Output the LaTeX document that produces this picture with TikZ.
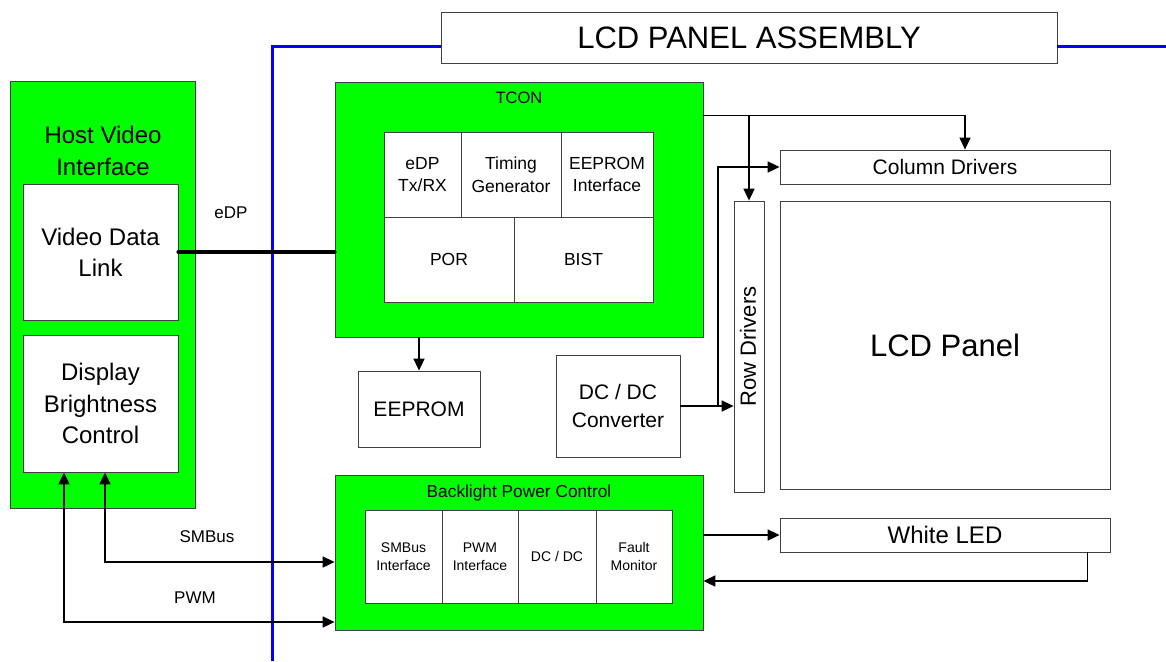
\documentclass[tikz,border=0pt]{standalone}
\usepackage{fontspec}
\setmainfont{Liberation Sans}
\usetikzlibrary{arrows.meta}
\begin{document}
\begin{tikzpicture}[x=1pt,y=-1pt,
  box/.style={draw=black!75,line width=0.8pt,fill=white,inner sep=0pt,align=center},
  gbox/.style={draw=black!75,line width=0.8pt,fill=green,inner sep=0pt},
  arr/.style={line width=1.7pt,-{Triangle[length=12pt,width=11pt]}},
  darr/.style={line width=1.7pt,{Triangle[length=12pt,width=11pt]}-{Triangle[length=12pt,width=11pt]}},
  bline/.style={blue,line width=3pt},
  fs/.style={font=\fontsize{#1}{\fpeval{#1*1.3}}\selectfont}
]
\useasboundingbox (0,0) rectangle (1166,661);
% title
\node[box,minimum width=616,minimum height=51,fs=31] (title) at (749,37.5) {LCD PANEL ASSEMBLY};
\coordinate (bl1) at (272,661);
\coordinate (bl2) at (1166,47);
\draw[bline] (bl1) |- ([yshift=-9.5]title.west);
\draw[bline] ([yshift=-9.5]title.east) -- (bl2);
% host
\node[gbox,minimum width=185,minimum height=427] (host) at (102.5,294.5) {};
\node[align=center,fs=24,inner sep=0pt] (hosttitle) at (103,151) {Host Video\\Interface};
\node[box,minimum width=155,minimum height=136,fs=24] (vdl) at (100.5,252) {Video Data\\Link};
\node[box,minimum width=155,minimum height=137,fs=24] (dbc) at (100.5,403.5) {Display\\Brightness\\Control};
% TCON
\node[gbox,minimum width=368,minimum height=255] (tcon) at (519,209.5) {};
\node[fs=16.5] (tcontitle) at (519,98) {TCON};
\node[box,minimum width=77,minimum height=85,fs=17.5] (edp) at (422.5,174.5) {eDP\\Tx/RX};
\node[box,minimum width=100,minimum height=85,fs=17.5] (tg) at (511,174.5) {Timing\\Generator};
\node[box,minimum width=92,minimum height=85,fs=17.5] (eei) at (607,174.5) {EEPROM\\Interface};
\node[box,minimum width=130,minimum height=85,fs=17.5] (por) at (449,259.5) {POR};
\node[box,minimum width=139,minimum height=85,fs=17.5] (bist) at (583.5,259.5) {BIST};
% EEPROM, DCDC
\node[box,minimum width=122,minimum height=76,fs=21] (eeprom) at (419,409) {EEPROM};
\node[box,minimum width=124,minimum height=102,fs=21] (dcdc) at (618,406) {DC / DC\\Converter};
% panel
\node[box,minimum width=30,minimum height=291] (row) at (749,346.5) {};
\node[rotate=90,fs=22] (rowtext) at ([xshift=-1]row.center) {Row Drivers};
\node[box,minimum width=330,minimum height=34,fs=21] (col) at (945,167) {Column Drivers};
\node[box,minimum width=330,minimum height=288,fs=31] (lcd) at (945,345) {LCD Panel};
% backlight
\node[gbox,minimum width=368,minimum height=155] (bpc) at (519,552.5) {};
\node[fs=17.3] (bpctitle) at (519,493) {Backlight Power Control};
\node[box,minimum width=77,minimum height=93,fs=14] (smbi) at (403.5,556.5) {SMBus\\Interface};
\node[box,minimum width=76,minimum height=93,fs=14] (pwmi) at (480,556.5) {PWM\\Interface};
\node[box,minimum width=78,minimum height=93,fs=14] (dcdc2) at (557,556.5) {DC / DC};
\node[box,minimum width=76,minimum height=93,fs=14] (fault) at (634,556.5) {Fault\\Monitor};
\node[box,minimum width=330,minimum height=34,fs=24] (wled) at (945,535) {White LED};
% connectors
\draw[line width=4pt,line cap=round] (vdl.east) -- (vdl.east -| tcon.west);
\node[fs=17] (edplabel) at (231,213) {eDP};
\coordinate (tco) at ([yshift=-34]tcon.north east);
\draw[arr,line width=1.3pt] (tco) -| ([xshift=20]col.north);
\draw[arr] (tco -| row.north) -- (row.north);
\draw[arr] (tcon.south -| eeprom.north) -- (eeprom.north);
\draw[arr] (dcdc.east) -- (dcdc.east -| row.west);
\coordinate (br) at (718,406);
\draw[arr] (br) |- (col.west);
\draw[arr] (bpc.east |- wled.west) -- (wled.west);
\draw[arr] ([xshift=-23]wled.south east) |- ([yshift=-28.5]bpc.east);
\draw[darr] ([xshift=4.5]dbc.south) |- ([yshift=-9.5]bpc.west);
\draw[darr] ([xshift=-36.5]dbc.south) |- ([yshift=-69.5]bpc.west);
\node[fs=17] (smblabel) at (207,537) {SMBus};
\node[fs=17] (pwmlabel) at (195,598) {PWM};
\end{tikzpicture}
\end{document}
